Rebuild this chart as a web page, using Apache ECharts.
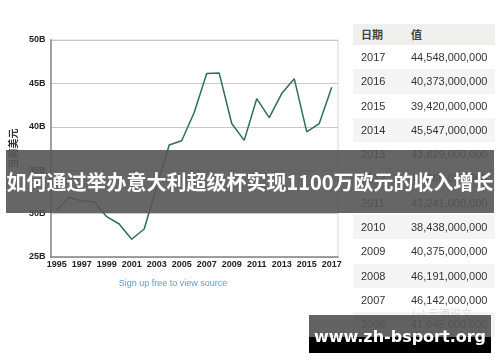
<!DOCTYPE html>
<html>
<head>
<meta charset="utf-8">
<script src="https://cdn.jsdelivr.net/npm/echarts@6/dist/echarts.min.js"></script>
<style>
  html, body { margin: 0; padding: 0; background: #fff; }
  #wrap { position: relative; width: 500px; height: 362px; overflow: hidden; }
  #chart { position: absolute; left: 0; top: 0; width: 500px; height: 362px; }
  .tbl { position: absolute; left: 353px; top: 24px; width: 142px; font-family: "Liberation Sans", Arial, sans-serif; font-size: 11px; color: #333; }
  .tbl .row { height: 24.3px; line-height: 24.3px; position: relative; }
  .tbl .row.hd { height: 21px; line-height: 21px; background: #efefed; font-family: "Noto Sans CJK SC", sans-serif; font-weight: bold; color: #444; }
  .tbl .row.alt { background: #f4f4f4; }
  .tbl .c1 { position: absolute; left: 8px; }
  .tbl .c2 { position: absolute; left: 58px; }
  .mark { position: absolute; left: 412px; top: 305px; font-family: "Noto Sans CJK SC", sans-serif; font-size: 11px; color: #d8d8d8; }
  .banner { position: absolute; left: 6px; top: 150px; width: 488px; height: 63px; background: rgba(85,85,85,0.9); color: #fff;
    font-family: "Noto Sans CJK SC", sans-serif; font-weight: bold; font-size: 20px; line-height: 63px; text-align: center; white-space: nowrap; }
  .site { position: absolute; left: 309px; top: 315px; width: 182px; height: 38px;
    background: linear-gradient(to bottom, rgba(85,85,85,0.92) 0, rgba(85,85,85,0.92) 22px, #000 22px, #000 38px); }
  .site span { position: absolute; left: 0; right: 0; top: 12px; text-align: center; color: #fff;
    font-family: "DejaVu Sans", sans-serif; font-weight: bold; font-size: 16px; }
  .src { position: absolute; left: 0; width: 346px; top: 278px; text-align: center; color: #5b9bd5;
    font-family: "Liberation Sans", Arial, sans-serif; font-size: 9px; }
</style>
</head>
<body>
<div id="wrap">
  <div id="chart"></div>
  <div class="src">Sign up free to view source</div>
  <div class="tbl" id="tbl"></div>
  <div class="mark">(~) 云酒说文</div>
  <div class="banner">如何通过举办意大利超级杯实现1100万欧元的收入增长</div>
  <div class="site"><span>www.zh-bsport.org</span></div>
</div>
<script>
const years = ["1995","1996","1997","1998","1999","2000","2001","2002","2003","2004","2005","2006",
  "2007","2008","2009","2010","2011","2012","2013","2014","2015","2016","2017"];
// revenue in billions
const revenue = [30.41, 31.88, 31.45, 31.37, 29.64, 28.8, 27.04, 28.23, 33.1, 37.9, 38.4, 41.645,
  46.142, 46.191, 40.375, 38.438, 43.241, 41.06, 43.829, 45.547, 39.42, 40.373, 44.548];
const tableYears = ["2017","2016","2015","2014","2013","2012","2011","2010","2009","2008","2007","2006"];
const tableValues = ["44,548,000,000","40,373,000,000","39,420,000,000","45,547,000,000","43,829,000,000",
  "41,060,000,000","43,241,000,000","38,438,000,000","40,375,000,000","46,191,000,000","46,142,000,000","41,645,000,000"];

// table on the right
let html = '<div class="row hd"><span class="c1">日期</span><span class="c2">值</span></div>';
tableYears.forEach((y, i) => {
  html += '<div class="row' + (i % 2 ? ' alt' : '') + '"><span class="c1">' + y +
    '</span><span class="c2">' + tableValues[i] + '</span></div>';
});
document.getElementById("tbl").innerHTML = html;

const chart = echarts.init(document.getElementById("chart"));
const lblFont = { fontFamily: "Liberation Sans, Arial, sans-serif", fontWeight: "bold", fontSize: 9, color: "#222" };

chart.setOption({
  backgroundColor: "#fff",
  animation: false,
  grid: { left: 47, top: 40, width: 291, height: 217, show: true, borderColor: "#d8d8d8", borderWidth: 1 },
  xAxis: {
    type: "category",
    data: years,
    boundaryGap: true,
    axisLine: { lineStyle: { color: "#888", width: 1.5 } },
    axisTick: { alignWithLabel: true, interval: 0, length: 4, lineStyle: { color: "#888" } },
    axisLabel: Object.assign({ interval: 1, margin: 3 }, lblFont),
  },
  yAxis: {
    type: "value",
    min: 25,
    max: 50,
    interval: 5,
    name: "当前美元",
    nameLocation: "middle",
    nameRotate: 90,
    nameGap: 27,
    nameTextStyle: { fontFamily: "Noto Sans CJK SC", fontSize: 10, fontWeight: "bold", color: "#333" },
    axisLine: { show: true, lineStyle: { color: "#a0a0a0", width: 2 } },
    axisTick: { show: false },
    splitLine: { lineStyle: { color: "#c8c8c8", width: 1 } },
    axisLabel: Object.assign({ margin: 5, formatter: v => v + "B" }, lblFont),
  },
  series: [{
    type: "line",
    data: revenue,
    symbol: "none",
    lineStyle: { color: "#2f6e58", width: 1.5 },
  }],
});
</script>
</body>
</html>
